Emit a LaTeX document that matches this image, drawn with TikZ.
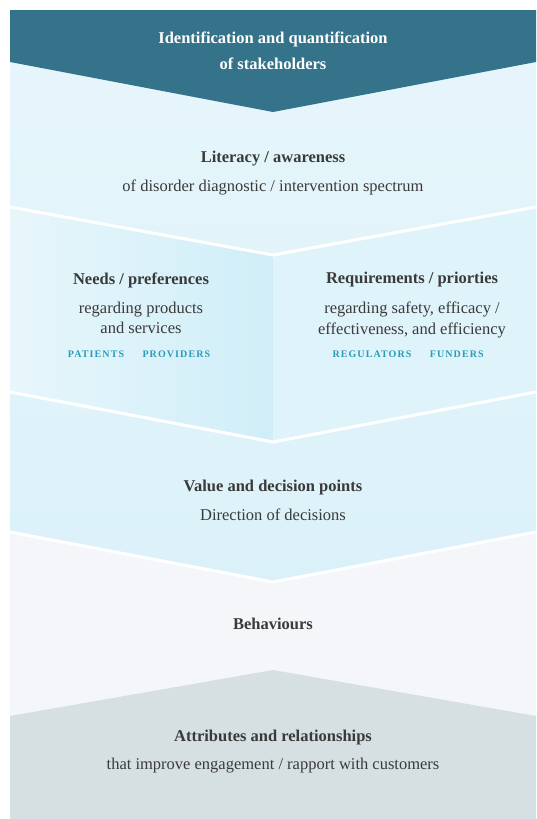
\documentclass[tikz,border=0pt]{standalone}
\usepackage{fontspec}
\setmainfont{Liberation Serif}
\usetikzlibrary{positioning}
\definecolor{headColor}{RGB}{52,115,138}
\definecolor{blueTop}{RGB}{231,246,251}
\definecolor{blueLow}{RGB}{219,241,249}
\definecolor{blueDeep}{RGB}{208,238,248}
\definecolor{behaviourColor}{RGB}{245,246,250}
\definecolor{baseColor}{RGB}{214,224,226}
\definecolor{textColor}{RGB}{58,58,58}
\definecolor{groupColor}{RGB}{42,155,184}
\tikzstyle{chart} = [x = 1pt, y = -1pt]
\tikzstyle{separatorLine} = [draw=white, line width=3pt]
\tikzstyle{titleText} = [font=\fontsize{16.5}{26}\selectfont\bfseries, text=textColor, align=center, inner sep=0pt]
\tikzstyle{bodyText} = [font=\fontsize{16.5}{20.5}\selectfont, text=textColor, align=center, inner sep=0pt]
\tikzstyle{groupText} = [font=\fontsize{10}{12}\selectfont\bfseries\addfontfeature{LetterSpace=11}, text=groupColor, inner sep=0pt]
\newcommand{\chevronLine}[2]{\draw [separatorLine] (10,#1) -- (273,#2) -- (536,#1);}

\begin{document}
\begin{tikzpicture}[chart]
  \useasboundingbox (0,0) rectangle (536,819);
  % bands
  \fill [behaviourColor] (10,10) rectangle (536,819);
  \shade [top color=blueTop, bottom color=blueLow] (10,10) -- (536,10) -- (536,532) -- (273,582) -- (10,532) -- cycle;
  \shade [shading angle=-30, left color=blueTop, right color=blueDeep] (10,207) -- (273,255) -- (273,442) -- (10,392) -- cycle;
  \fill [blueLow!70!blueTop] (273,255) -- (536,207) -- (536,392) -- (273,442) -- cycle;
  \chevronLine{207}{255}
  \chevronLine{392}{442}
  \chevronLine{532}{582}
  \fill [headColor] (10,10) -- (536,10) -- (536,62) -- (273,112) -- (10,62) -- cycle;
  \fill [baseColor] (10,716) -- (273,670) -- (536,716) -- (536,819) -- (10,819) -- cycle;
  % texts
  \node [titleText, text=white] (stakeholders) at (273,51) {Identification and quantification\\of stakeholders};
  \node [titleText] (literacy) at (273,159) {Literacy / awareness};
  \node [bodyText, below=12.5pt of literacy] (spectrum) {of disorder diagnostic / intervention spectrum};
  \node [titleText] (needs) at (141,280) {Needs / preferences};
  \node [bodyText, below=14pt of needs] (products) {regarding products\\and services};
  \node [groupText] (patients) at (96,354) {PATIENTS};
  \node [groupText, right=18pt of patients] (providers) {PROVIDERS};
  \node [titleText] (requirements) at (412,280) {Requirements / priorties};
  \node [bodyText, below=14pt of requirements] (safety) {regarding safety, efficacy /\\effectiveness, and efficiency};
  \node [groupText] (regulators) at (372,354) {REGULATORS};
  \node [groupText, right=18pt of regulators] (funders) {FUNDERS};
  \node [titleText] (value) at (273,488) {Value and decision points};
  \node [bodyText, below=12.5pt of value] (direction) {Direction of decisions};
  \node [titleText] (behaviours) at (273,624) {Behaviours};
  \node [titleText] (attributes) at (273,738) {Attributes and relationships};
  \node [bodyText, below=12.5pt of attributes] (rapport) {that improve engagement / rapport with customers};
\end{tikzpicture}
\end{document}
